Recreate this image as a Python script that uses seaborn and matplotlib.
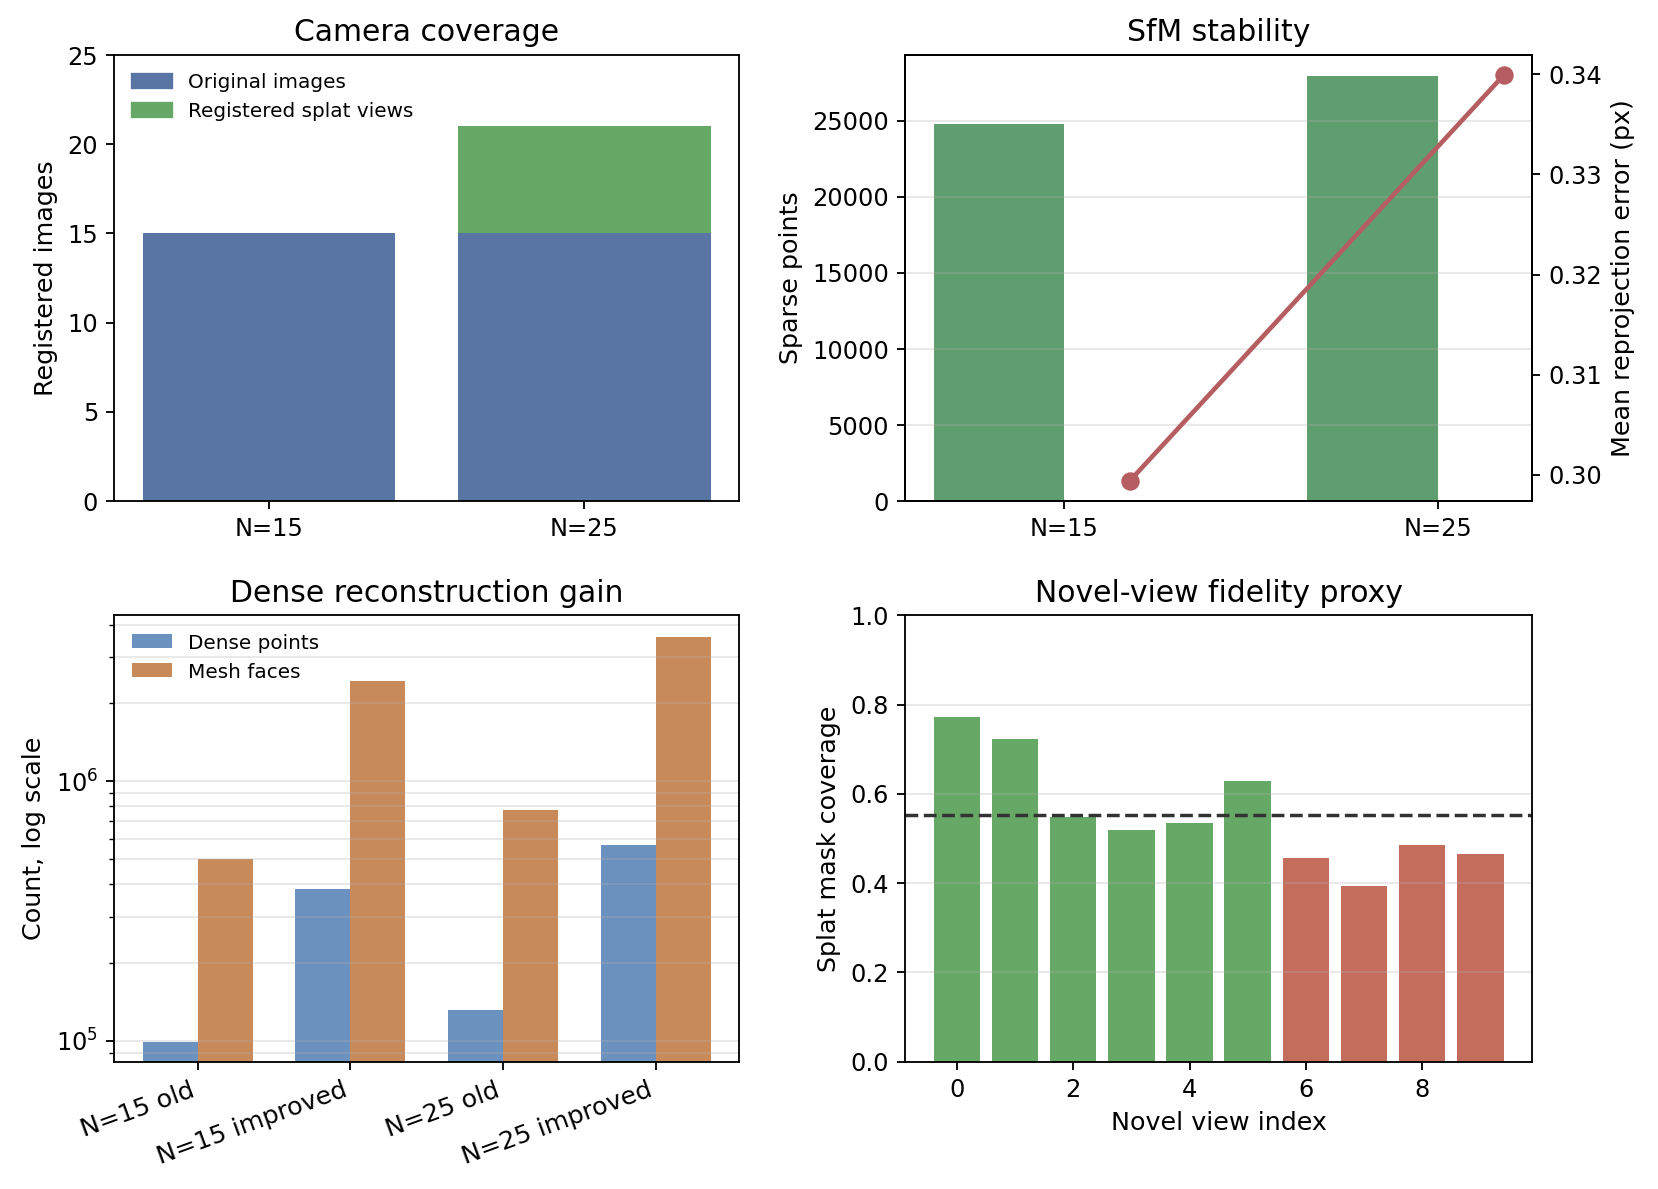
import numpy as np
import pandas as pd
import matplotlib
matplotlib.use("Agg")
import matplotlib.pyplot as plt
from matplotlib.patches import Patch
from matplotlib.ticker import MultipleLocator
import seaborn as sns

# ---------------- data ----------------
configs = ["N=15", "N=25"]
original_images = [15, 15]
splat_views = [0, 6]

sparse_points = [24790, 27920]
reproj_error = [0.2994, 0.3399]

dense_labels = ["N=15 old", "N=15 improved", "N=25 old", "N=25 improved"]
dense_points = [98500, 385000, 131000, 565000]
mesh_faces = [500000, 2430000, 777000, 3600000]

view_index = [0, 1, 2, 3, 4, 5, 6, 7, 8, 9]
mask_coverage = [0.773, 0.724, 0.549, 0.518, 0.534, 0.628, 0.456, 0.393, 0.485, 0.465]
view_group = ["ok", "ok", "ok", "ok", "ok", "ok", "weak", "weak", "weak", "weak"]

# ---------------- style ----------------
BLUE = "#5975a4"
GREEN = "#66a866"
SFM_GREEN = "#5f9e6e"
LINE_RED = "#b55d60"
DENSE_BLUE = "#6b91bf"
MESH_ORANGE = "#c98a5a"
BAD_RED = "#c56d5d"

plt.rcParams.update({
    "font.family": ["DejaVu Sans"],
    "font.size": 10,
    "axes.titlesize": 13,
    "axes.labelsize": 11,
    "xtick.labelsize": 10.5,
    "ytick.labelsize": 10.5,
    "legend.fontsize": 8.7,
})

fig, axes = plt.subplots(2, 2, figsize=(10, 7.172), dpi=165.8)
rects = {
    (0, 0): [0.0689, 0.5785, 0.3769, 0.3752],
    (0, 1): [0.5459, 0.5785, 0.3782, 0.3752],
    (1, 0): [0.0689, 0.1071, 0.3769, 0.3753],
    (1, 1): [0.5459, 0.1071, 0.3782, 0.3753],
}
for k, r in rects.items():
    axes[k].set_position(r)

# ---------- Camera coverage ----------
ax = axes[0, 0]
df1 = pd.DataFrame({"config": configs, "orig": original_images, "splat": splat_views})
sns.barplot(data=df1, x="config", y="orig", color=BLUE, saturation=1, width=0.8, ax=ax)
ax.bar(np.arange(len(configs)), splat_views, bottom=original_images, width=0.8, color=GREEN)
ax.autoscale(enable=True, axis="x")
ax.set_ylim(0, 25)
ax.set_xlabel("")
ax.set_ylabel("Registered images")
ax.set_title("Camera coverage")
ax.legend(handles=[Patch(color=BLUE, label="Original images"),
                   Patch(color=GREEN, label="Registered splat views")],
          loc="upper left", frameon=False)

# ---------- SfM stability ----------
ax = axes[0, 1]
x = np.arange(len(configs))
w = 0.35
ax.bar(x - w / 2, sparse_points, width=w, color=SFM_GREEN)
ax.set_xticks(x)
ax.set_xticklabels(configs)
ax.set_ylabel("Sparse points")
ax.set_title("SfM stability")
ax.grid(axis="y", alpha=0.3)
ax2 = ax.twinx()
sns.lineplot(x=x + w / 2, y=reproj_error, ax=ax2, color=LINE_RED, marker="o",
             markersize=8, linewidth=2, markeredgewidth=0)
ax2.yaxis.set_major_locator(MultipleLocator(0.01))
ax2.set_ylabel("Mean reprojection error (px)")
ax2.set_position(rects[(0, 1)])

# ---------- Dense reconstruction gain ----------
ax = axes[1, 0]
df3 = pd.DataFrame({
    "label": dense_labels * 2,
    "metric": ["Dense points"] * len(dense_labels) + ["Mesh faces"] * len(dense_labels),
    "value": dense_points + mesh_faces,
})
sns.barplot(data=df3, x="label", y="value", hue="metric",
            palette={"Dense points": DENSE_BLUE, "Mesh faces": MESH_ORANGE},
            saturation=1, width=0.72, gap=0, ax=ax)
ax.set_yscale("log")
ax.set_ylim(8.3e4, 4.35e6)
ax.autoscale(enable=True, axis="x")
ax.grid(axis="y", which="both", alpha=0.3)
ax.set_xlabel("")
ax.set_ylabel("Count, log scale")
ax.set_title("Dense reconstruction gain")
for lab in ax.get_xticklabels():
    lab.set_rotation(20)
    lab.set_ha("right")
    lab.set_fontsize(11)
sns.move_legend(ax, "upper left", frameon=False, title=None)

# ---------- Novel-view fidelity proxy ----------
ax = axes[1, 1]
df4 = pd.DataFrame({"idx": view_index, "cov": mask_coverage, "grp": view_group})
sns.barplot(data=df4, x="idx", y="cov", hue="grp", palette={"ok": GREEN, "weak": BAD_RED},
            saturation=1, width=0.8, dodge=False, native_scale=True, legend=False, ax=ax)
ax.autoscale(enable=True, axis="x")
ax.axhline(np.mean(mask_coverage), color="#333333", linestyle="--", linewidth=1.5)
ax.set_ylim(0, 1.0)
ax.grid(axis="y", alpha=0.3)
ax.set_xlabel("Novel view index")
ax.set_ylabel("Splat mask coverage")
ax.set_title("Novel-view fidelity proxy")

fig.savefig("out.png", dpi=165.8)
